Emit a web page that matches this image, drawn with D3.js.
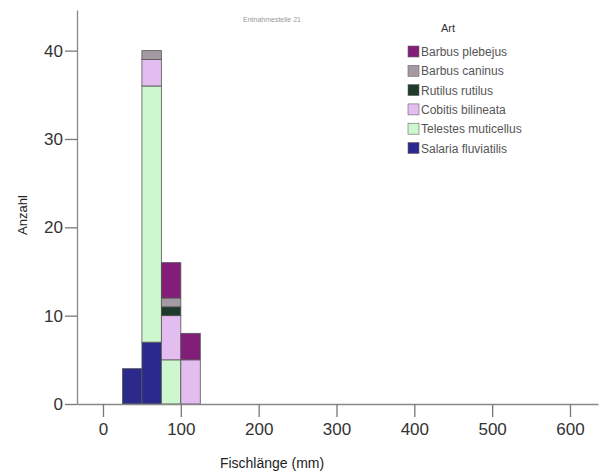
<!DOCTYPE html>
<html><head><meta charset="utf-8">
<script src="https://cdn.jsdelivr.net/npm/d3@7"></script>
<style>body{margin:0;background:#fff}svg{display:block}text{font-family:"Liberation Sans",Arial,sans-serif}</style>
</head><body><svg id="c" width="600" height="473"></svg>
<script>
const binStarts = [25, 50, 75, 100];
const binWidth = 25;
const species = ["Salaria fluviatilis","Telestes muticellus","Cobitis bilineata","Rutilus rutilus","Barbus caninus","Barbus plebejus"];
const colors = ["#2b2a8c","#cdf8cf","#e3bcf0","#1e3a2c","#a59aa3","#821d78"];
const salaria  = [4, 7, 0, 0];
const telestes = [0, 29, 5, 0];
const cobitis  = [0, 3, 5, 5];
const rutilus  = [0, 0, 1, 0];
const caninus  = [0, 1, 1, 0];
const plebejus = [0, 0, 4, 3];
const xTicks = [0,100,200,300,400,500,600];
const yTicks = [0,10,20,30,40];

const series = [salaria, telestes, cobitis, rutilus, caninus, plebejus];
const rows = binStarts.map((b,i)=>{const r={start:b}; species.forEach((s,j)=>r[s]=series[j][i]); return r;});
const stack = d3.stack().keys(species)(rows);

const svg = d3.select("#c");
const x = d3.scaleLinear().domain([-33.4, 636]).range([77, 598]);
const y = d3.scaleLinear().domain([0, 44.6]).range([404, 10]);
const col = d3.scaleOrdinal().domain(species).range(colors);

svg.append("g").selectAll("g").data(stack).join("g")
  .attr("fill", d=>col(d.key))
  .selectAll("rect").data(d=>d.filter(p=>p[1]>p[0])).join("rect")
  .attr("x", d=>x(d.data.start))
  .attr("width", d=>x(d.data.start+binWidth)-x(d.data.start))
  .attr("y", d=>y(d[1]))
  .attr("height", d=>y(d[0])-y(d[1]))
  .attr("stroke","#555").attr("stroke-width",0.8);

const ax = svg.append("g").attr("transform","translate(0,404)")
  .call(d3.axisBottom(x).tickValues(xTicks).tickSize(13).tickPadding(6).tickSizeOuter(0));
const ay = svg.append("g").attr("transform","translate(77,0)")
  .call(d3.axisLeft(y).tickValues(yTicks).tickSize(12).tickPadding(2).tickSizeOuter(0));
[ax, ay].forEach(a=>{
  a.select(".domain").attr("stroke","#888").attr("stroke-width",1.3);
  a.selectAll(".tick line").attr("stroke","#777").attr("stroke-width",1.3);
  a.selectAll(".tick text").attr("fill","#333").style("font-size","17px");
});

svg.append("text").attr("x",272).attr("y",468).attr("text-anchor","middle")
  .style("font-size","14px").attr("fill","#222").text("Fischlänge (mm)");
svg.append("text").attr("transform","translate(27,215) rotate(-90)").attr("text-anchor","middle")
  .style("font-size","13px").attr("fill","#222").text("Anzahl");
svg.append("text").attr("x",272).attr("y",22).attr("text-anchor","middle")
  .style("font-size","7px").attr("fill","#999").text("Entnahmestelle 21");

const leg = svg.append("g");
leg.append("text").attr("x",448).attr("y",32).attr("text-anchor","middle")
  .style("font-size","11px").attr("fill","#333").text("Art");
const legOrder = species.slice().reverse();
legOrder.forEach((s,i)=>{
  const yy = 46 + i*19.3;
  leg.append("rect").attr("x",408).attr("y",yy).attr("width",11).attr("height",11)
    .attr("fill",col(s)).attr("stroke","#666").attr("stroke-width",0.6);
  leg.append("text").attr("x",421).attr("y",yy+10).style("font-size","12px")
    .attr("fill","#555").text(s);
});
</script></body></html>
